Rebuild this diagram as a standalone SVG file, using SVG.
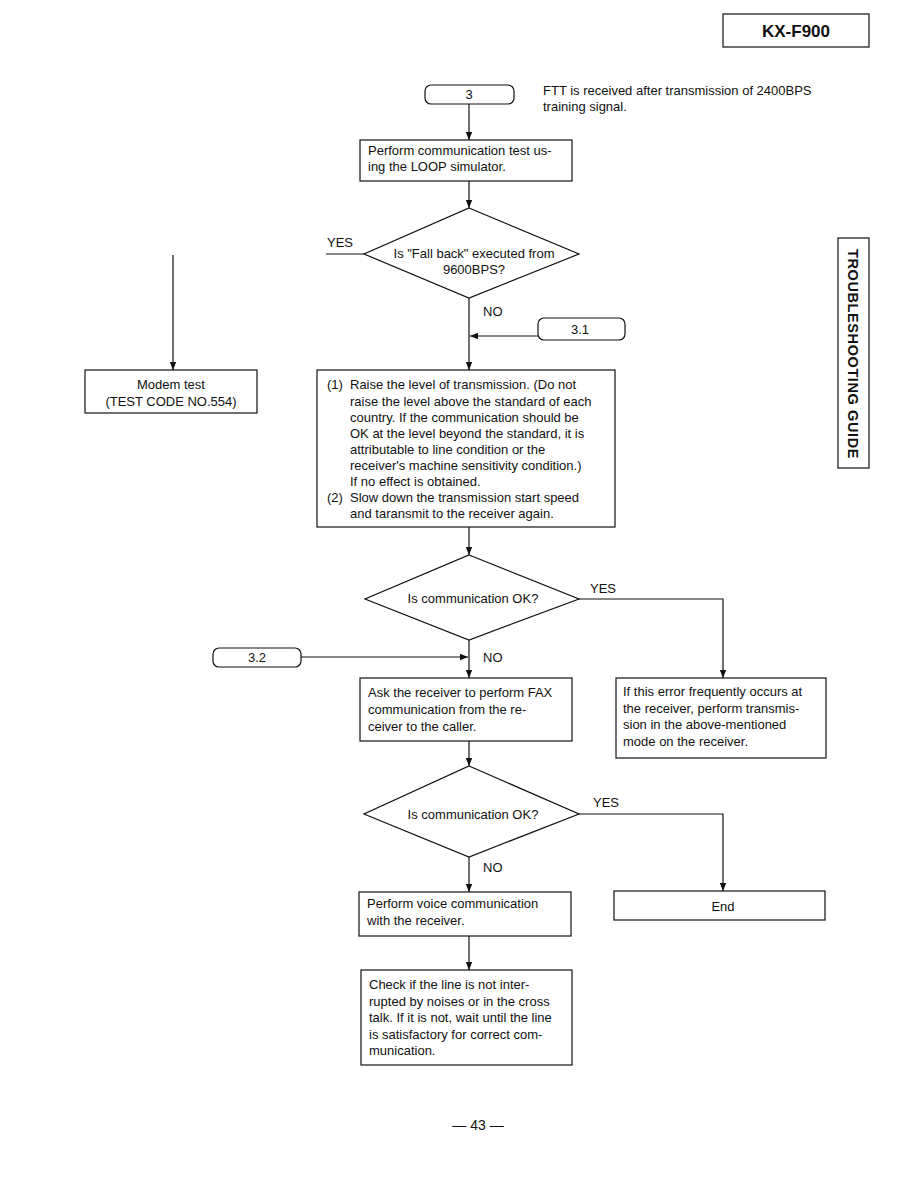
<svg xmlns="http://www.w3.org/2000/svg" width="918" height="1188" viewBox="0 0 918 1188">
<defs>
<style>
text{font-family:"Liberation Sans",Arial,sans-serif;font-size:13px;fill:#111}
.c{text-anchor:middle}
.b{fill:#fff;stroke:#111;stroke-width:1.2}
.ln{fill:none;stroke:#111;stroke-width:1.2}
</style>
<marker id="ah" viewBox="0 0 10 10" refX="10" refY="5" markerWidth="7" markerHeight="7" orient="auto"><path d="M0,1 L10,5 L0,9 z" fill="#111"/></marker>
</defs>
<rect width="918" height="1188" fill="#fff"/>
<g id="header"><rect x="723" y="14" width="146" height="33" class="b" stroke-width="1.5"/><text x="796" y="37" class="c" style="font-size:17px;font-weight:bold">KX-F900</text></g>
<g id="tab"><rect x="838" y="238" width="31" height="230" class="b"/><text transform="translate(848,354) rotate(90)" class="c" style="font-size:14.5px;font-weight:bold;letter-spacing:0.6px">TROUBLESHOOTING GUIDE</text></g>
<g id="connectors">
<path d="M469,104 V140" class="ln" marker-end="url(#ah)"/>
<path d="M469,181 V208" class="ln" marker-end="url(#ah)"/>
<path d="M326,254 H364" class="ln"/>
<path d="M173,255 V370" class="ln" marker-end="url(#ah)"/>
<path d="M469,298 V370" class="ln" marker-end="url(#ah)"/>
<path d="M538,336 H470" class="ln" marker-end="url(#ah)"/>
<path d="M469,527 V555" class="ln" marker-end="url(#ah)"/>
<path d="M579,599 H723 V678" class="ln" marker-end="url(#ah)"/>
<path d="M469,640 V678" class="ln" marker-end="url(#ah)"/>
<path d="M301,657 H468" class="ln" marker-end="url(#ah)"/>
<path d="M469,741 V766" class="ln" marker-end="url(#ah)"/>
<path d="M579,814 H723 V891" class="ln" marker-end="url(#ah)"/>
<path d="M469,857 V892" class="ln" marker-end="url(#ah)"/>
<path d="M469,936 V970" class="ln" marker-end="url(#ah)"/>
<text x="327" y="247">YES</text>
<text x="483" y="316">NO</text>
<text x="590" y="593">YES</text>
<text x="483" y="662">NO</text>
<text x="593" y="807">YES</text>
<text x="483" y="872">NO</text>
</g>
<g id="t3"><rect x="425" y="85" width="89" height="19" rx="6" class="b"/><text x="469" y="99" class="c">3</text></g>
<g id="note"><text x="543" y="95">FTT is received after transmission of 2400BPS</text><text x="543" y="111">training signal.</text></g>
<g id="box1"><rect x="360" y="140" width="212" height="41" class="b"/><text x="368" y="155">Perform communication test us-</text><text x="368" y="171">ing the LOOP simulator.</text></g>
<g id="d1"><path d="M469,208 L579,254 L469,298 L364,254 z" class="b"/><text x="474" y="258" class="c">Is "Fall back" executed from</text><text x="474" y="274" class="c">9600BPS?</text></g>
<g id="modem"><rect x="85" y="370" width="172" height="43" class="b"/><text x="171" y="389" class="c">Modem test</text><text x="171" y="406" class="c">(TEST CODE NO.554)</text></g>
<g id="t31"><rect x="538" y="318" width="87" height="22" rx="6" class="b"/><text x="580" y="334" class="c">3.1</text></g>
<g id="box2"><rect x="317" y="370" width="298" height="157" class="b"/>
<text x="327" y="389">(1)</text><text x="350" y="389">Raise the level of transmission. (Do not</text>
<text x="350" y="406">raise the level above the standard of each</text>
<text x="350" y="422">country.  If the communication should be</text>
<text x="350" y="438">OK at the level beyond the standard, it is</text>
<text x="350" y="454">attributable to line condition or the</text>
<text x="350" y="470">receiver's machine sensitivity condition.)</text>
<text x="350" y="486">If no effect is obtained.</text>
<text x="327" y="502">(2)</text><text x="350" y="502">Slow down the transmission start speed</text>
<text x="350" y="518">and taransmit to the receiver again.</text></g>
<g id="d2"><path d="M469,555 L579,599 L469,640 L365,599 z" class="b"/><text x="473" y="603" class="c">Is communication OK?</text></g>
<g id="t32"><rect x="213" y="648" width="88" height="19" rx="6" class="b"/><text x="257" y="662" class="c">3.2</text></g>
<g id="box3"><rect x="360" y="678" width="212" height="63" class="b"/><text x="368" y="697">Ask the receiver to perform FAX</text><text x="368" y="714">communication from the re-</text><text x="368" y="731">ceiver to the caller.</text></g>
<g id="boxr"><rect x="616" y="678" width="210" height="80" class="b"/><text x="623" y="696">If this error frequently occurs at</text><text x="623" y="713">the receiver, perform transmis-</text><text x="623" y="729">sion in the above-mentioned</text><text x="623" y="746">mode on the receiver.</text></g>
<g id="d3"><path d="M469,766 L579,814 L469,857 L364,814 z" class="b"/><text x="473" y="819" class="c">Is communication OK?</text></g>
<g id="end"><rect x="614" y="891" width="211" height="29" class="b"/><text x="723" y="911" class="c">End</text></g>
<g id="box4"><rect x="359" y="892" width="212" height="44" class="b"/><text x="367" y="908">Perform voice communication</text><text x="367" y="925">with the receiver.</text></g>
<g id="box5"><rect x="361" y="970" width="211" height="95" class="b"/><text x="369" y="989">Check if the line is not inter-</text><text x="369" y="1006">rupted by noises or in the cross</text><text x="369" y="1022">talk.  If it is not, wait until the line</text><text x="369" y="1039">is satisfactory for correct com-</text><text x="369" y="1055">munication.</text></g>
<g id="page"><text x="478" y="1130" class="c" style="font-size:14px">— 43 —</text></g>
</svg>
